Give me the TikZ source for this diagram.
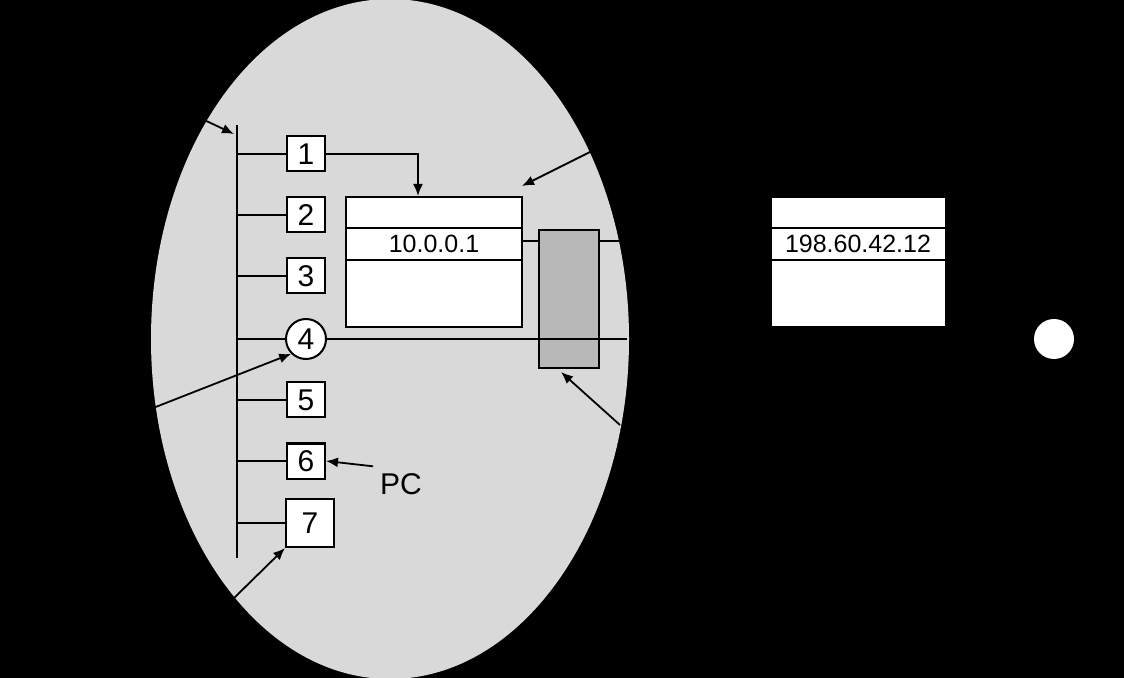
\documentclass[tikz,border=0pt]{standalone}
\usepackage{fontspec}
\setmainfont{Liberation Sans}
\usetikzlibrary{arrows.meta}
\begin{document}
\begin{tikzpicture}[x=0.5pt,y=-0.5pt,
  num/.style={draw,fill=white,line width=1pt,minimum width=19pt,minimum height=17.5pt,inner sep=0pt,font=\fontsize{15}{15}\selectfont},
  ln/.style={line width=1.3pt},
  ar/.style={line width=0.9pt,-{Latex[length=6pt,width=5pt]}}]
\useasboundingbox (0,0) rectangle (1124,678);
\fill[black] (0,0) rectangle (1124,678);
\fill[black!15] (390,339) ellipse [x radius=239,y radius=340];
% bus
\draw[ln] (237,125) -- (237,558);
\node[num] (n1) at (306,154) {1};
\node[num] (n2) at (306,215) {2};
\node[num] (n3) at (306,276) {3};
\node[num,circle,minimum size=20pt] (n4) at (306,339) {4};
\node[num] (n5) at (306,400) {5};
\node[num] (n6) at (306,461) {6};
\node[num,minimum width=24pt,minimum height=24pt] (n7) at (310,523) {7};
\foreach \i/\y in {1/154,2/215,3/276,4/339,5/400,6/461,7/523}
  \draw[ln] (237,\y) -- (n\i.west);
% left table
\node[draw,fill=white,line width=1pt,minimum width=88pt,minimum height=65pt,inner sep=0pt] (tl) at (434,262) {};
\draw[line width=1pt] (346,228) -- (522,228) (346,260) -- (522,260);
\node[font=\fontsize{12.5}{12.5}\selectfont] (ipl) at (434,244) {10.0.0.1};
\draw[ar] (n1.east) -- (418,154) -- (tl.north -| 418,0);
% router
\draw[ln] (522,241) -- (625,241);
\node[draw,fill=black!28,line width=1pt,minimum width=30pt,minimum height=69pt,inner sep=0pt] (rt) at (569,299) {};
\draw[ln] (n4.east) -- (627,339);
% right table
\node[fill=white,minimum width=86.5pt,minimum height=64pt,inner sep=0pt] (tr) at (858,262) {};
\draw[line width=1pt] (772,228) -- (945,228) (772,260) -- (945,260);
\node[font=\fontsize{12.5}{12.5}\selectfont] (ipr) at (858,244) {198.60.42.12};
\node[circle,fill=white,minimum size=20pt,inner sep=0pt] (dot) at (1054,339) {};
% arrows
\coordinate (a1) at (590,152); \draw[ar] (a1) -- (522,186);
\coordinate (a2) at (620,425); \draw[ar] (a2) -- (561,372);
\coordinate (a3) at (148,410); \draw[ar] (a3) -- (n4.south west);
\coordinate (a4) at (200,118); \draw[ar] (a4) -- (234,134);
\coordinate (a5) at (232,600); \draw[ar] (a5) -- (n7.south west);
\node[font=\fontsize{15}{15}\selectfont] (pc) at (401,484) {PC};
\draw[ar] (pc.north west) -- (n6.east);
\end{tikzpicture}
\end{document}
